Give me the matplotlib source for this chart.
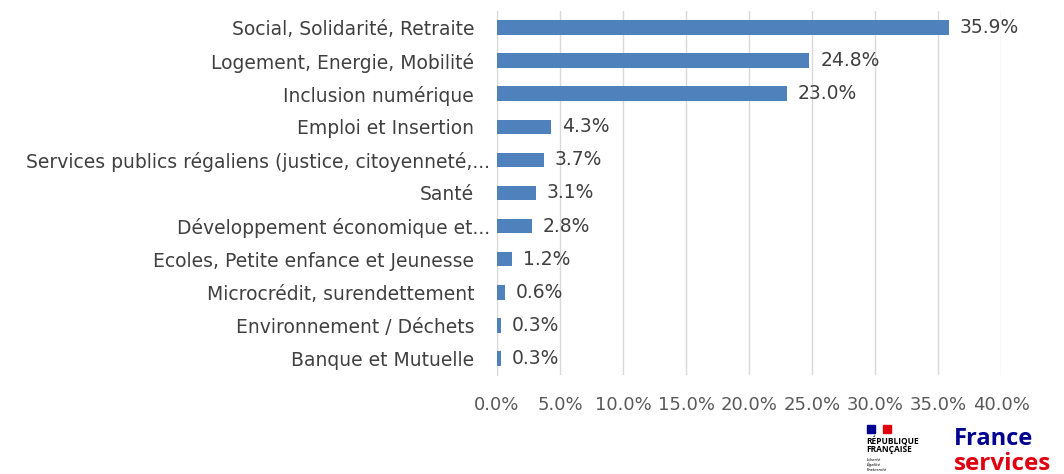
import matplotlib
matplotlib.use('Agg')
import matplotlib.pyplot as plt
import matplotlib.transforms as mtransforms
from matplotlib.patches import Rectangle

# Donnees
categories = ['Social, Solidarité, Retraite', 'Logement, Energie, Mobilité', 'Inclusion numérique',
              'Emploi et Insertion', 'Services publics régaliens (justice, citoyenneté,...',
              'Santé', 'Développement économique et...', 'Ecoles, Petite enfance et Jeunesse',
              'Microcrédit, surendettement', 'Environnement / Déchets', 'Banque et Mutuelle']
values = [35.9, 24.8, 23.0, 4.3, 3.7, 3.1, 2.8, 1.2, 0.6, 0.3, 0.3]
xticks = [0, 5, 10, 15, 20, 25, 30, 35, 40]

plt.rcParams['font.family'] = ['DejaVu Sans']

W, H = 1064, 474
fig = plt.figure(figsize=(W / 100, H / 100), dpi=100)
ax = fig.add_axes([497 / W, 1 - 375 / H, 504 / W, 364 / H])

y = list(range(len(categories)))
ax.barh(y, values, height=0.44, color='#4F81BD', zorder=3)

for yi, v in zip(y, values):
    ax.text(v + 0.85, yi, f'{v:.1f}%', va='center', ha='left', fontsize=13.5, color='#404040')

ax.set_yticks(y)
ax.set_yticklabels(categories, fontsize=13.5, color='#404040')
ax.set_ylim(len(categories) - 0.5, -0.5)
ax.set_xlim(0, 40)
ax.set_xticks(xticks)
ax.set_xticklabels([f'{t:.1f}%' for t in xticks], fontsize=13, color='#595959')
ax.tick_params(axis='both', length=0)
ax.tick_params(axis='y', pad=16.5)
ax.tick_params(axis='x', pad=15)
ax.grid(axis='x', color='#D9D9D9', linewidth=1, zorder=0)
for s in ['top', 'right', 'bottom']:
    ax.spines[s].set_visible(False)
ax.spines['left'].set_color('#D9D9D9')

# les libelles tronques sont plus proches de l'axe
shift = mtransforms.ScaledTranslation(16 / 100, 0, fig.dpi_scale_trans)
for lab in ax.get_yticklabels():
    if lab.get_text().endswith('...'):
        lab.set_transform(lab.get_transform() + shift)

# Logo France services
fig.patches.append(Rectangle((867 / W, 1 - 433 / H), 8 / W, 8 / H, color='#000091', transform=fig.transFigure))
fig.patches.append(Rectangle((883 / W, 1 - 433 / H), 8 / W, 8 / H, color='#E1000F', transform=fig.transFigure))
fig.text(866 / W, 1 - 444 / H, 'RÉPUBLIQUE', fontsize=6, fontweight='bold',
         color='#000000', va='baseline', ha='left', family=['Open Sans'])
fig.text(866 / W, 1 - 452 / H, 'FRANÇAISE', fontsize=6, fontweight='bold',
         color='#000000', va='baseline', ha='left', family=['Open Sans'])
fig.text(867 / W, 1 - 465 / H, 'Liberté\nÉgalité\nFraternité', fontsize=3, style='italic',
         color='#000000', va='center', ha='left', linespacing=1.1)
fig.text(954 / W, 1 - 445 / H, 'France', fontsize=17, fontweight='bold', color='#000091',
         va='baseline', ha='left', family=['Open Sans'])
fig.text(954 / W, 1 - 470 / H, 'services', fontsize=17.5, fontweight='bold', color='#E1000F',
         va='baseline', ha='left', family=['Open Sans'])

fig.savefig('out.png', dpi=100)
